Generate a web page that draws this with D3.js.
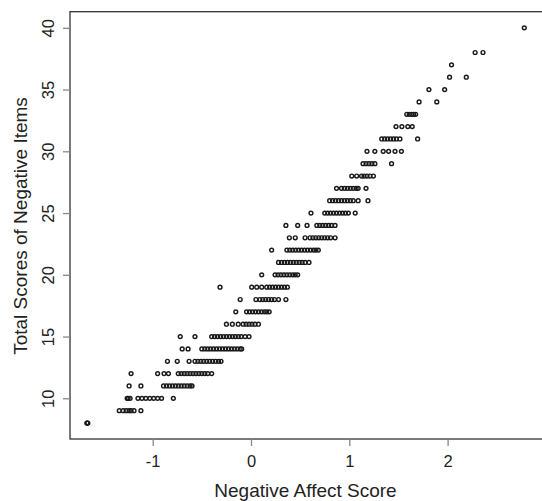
<!DOCTYPE html>
<html><head><meta charset="utf-8">
<script src="https://cdn.jsdelivr.net/npm/d3@7"></script>
<style>body{margin:0;background:#fff}svg{display:block}text{font-family:"Liberation Sans",Arial,sans-serif;fill:#222}</style>
</head><body>
<svg id="c" width="542" height="501"></svg>
<script>
// Negative Affect Score (x) values, grouped by Total Score (y)
const rows = [
  [8,  [-1.67,-1.665,-1.66]],
  [9,  [-1.34,-1.30,-1.27,-1.24,-1.22,-1.19,-1.12]],
  [10, [-1.26,-1.25,-1.23,-1.15,-1.11,-1.07,-1.03,-0.99,-0.95,-0.91,-0.79]],
  [11, [-1.24,-1.12,-0.89,-0.86,-0.83,-0.80,-0.77,-0.74,-0.71,-0.68,-0.65,-0.62,-0.60]],
  [12, [-1.22,-0.95,-0.885,-0.84,-0.74,-0.71,-0.68,-0.65,-0.62,-0.59,-0.56,-0.53,-0.50,-0.47,-0.44,-0.40]],
  [13, [-0.85,-0.75,-0.63,-0.57,-0.54,-0.51,-0.48,-0.45,-0.42,-0.39,-0.36,-0.33,-0.305]],
  [14, [-0.70,-0.64,-0.50,-0.47,-0.44,-0.41,-0.38,-0.35,-0.32,-0.29,-0.26,-0.23,-0.20,-0.17,-0.14,-0.11,-0.095]],
  [15, [-0.72,-0.57,-0.40,-0.37,-0.34,-0.31,-0.28,-0.25,-0.22,-0.19,-0.16,-0.13,-0.10,-0.06,-0.02]],
  [16, [-0.25,-0.19,-0.13,-0.08,-0.05,-0.02,0.01,0.04,0.075]],
  [17, [-0.155,-0.045,-0.015,0.015,0.045,0.075,0.105,0.135,0.16,0.185]],
  [18, [-0.11,0.05,0.09,0.12,0.15,0.18,0.21,0.24,0.28,0.355]],
  [19, [-0.315,0.007,0.058,0.109,0.16,0.19,0.22,0.25,0.28,0.31,0.34,0.37]],
  [20, [0.109,0.245,0.275,0.305,0.335,0.365,0.395,0.425,0.45,0.475]],
  [21, [0.28,0.31,0.34,0.37,0.40,0.43,0.46,0.49,0.52,0.55,0.59]],
  [22, [0.21,0.365,0.395,0.425,0.455,0.485,0.515,0.545,0.575,0.605,0.635,0.66,0.685]],
  [23, [0.39,0.45,0.55,0.60,0.63,0.66,0.69,0.72,0.75,0.78,0.81,0.855]],
  [24, [0.355,0.475,0.57,0.67,0.70,0.73,0.76,0.79,0.82,0.855]],
  [25, [0.61,0.75,0.78,0.81,0.84,0.87,0.90,0.93,0.96,0.99,1.06]],
  [26, [0.80,0.83,0.86,0.89,0.92,0.95,0.98,1.01,1.04,1.09,1.19]],
  [27, [0.87,0.92,0.95,0.98,1.01,1.04,1.07,1.09,1.17]],
  [28, [1.025,1.075,1.125,1.15,1.18,1.21,1.245]],
  [29, [1.14,1.17,1.20,1.23,1.26,1.43]],
  [30, [1.18,1.26,1.345,1.40,1.465,1.53]],
  [31, [1.33,1.36,1.39,1.42,1.45,1.48,1.515,1.695]],
  [32, [1.475,1.535,1.595,1.64]],
  [33, [1.585,1.61,1.635,1.655,1.675]],
  [34, [1.71,1.89]],
  [35, [1.81,1.97]],
  [36, [2.02,2.19]],
  [37, [2.04]],
  [38, [2.28,2.36]],
  [40, [2.78]]
];
const xTicks = [-1,0,1,2];
const yTicks = [10,15,20,25,30,35,40];
const xTitle = "Negative Affect Score";
const yTitle = "Total Scores of Negative Items";

const points = [];
rows.forEach(([yv, xs]) => xs.forEach(xv => points.push({x:xv, y:yv})));

const svg = d3.select("#c");
const x = d3.scaleLinear().domain([-1,2]).range([152.7,447.6]);
const y = d3.scaleLinear().domain([10,40]).range([398.3,27.8]);
const pL = 70, pR = 545, pT = 11.7, pB = 439;
const FONT = "'Liberation Sans',Arial,sans-serif";

svg.append("rect").attr("x",pL).attr("y",pT).attr("width",pR-pL).attr("height",pB-pT)
  .attr("fill","none").attr("stroke","#333").attr("stroke-width",1.3);

const xa = svg.append("g").attr("transform",`translate(0,${pB})`)
  .call(d3.axisBottom(x).tickValues(xTicks).tickSize(7).tickPadding(5).tickFormat(d => String(d)));
xa.select(".domain").remove();
xa.selectAll("line").attr("stroke","#888").attr("stroke-width",1.3);
xa.selectAll("text").attr("font-size",16.5).attr("fill","#222").style("font-family",FONT).attr("dy","0.95em");

const ya = svg.append("g").attr("transform",`translate(${pL},0)`)
  .call(d3.axisLeft(y).tickValues(yTicks).tickSize(7).tickFormat(d => String(d)));
ya.select(".domain").remove();
ya.selectAll("line").attr("stroke","#888").attr("stroke-width",1.3);
ya.selectAll("text").remove();
ya.selectAll(".tick").append("text")
  .attr("transform","translate(-16,0) rotate(-90)")
  .attr("text-anchor","middle").attr("dy","0")
  .attr("font-size",16.5).attr("fill","#222").style("font-family",FONT)
  .text(d => String(d));

svg.append("g").selectAll("circle").data(points).join("circle")
  .attr("cx", d => x(d.x)).attr("cy", d => y(d.y)).attr("r",1.9)
  .attr("fill","none").attr("stroke","#1a1a1a").attr("stroke-width",1.45);

svg.append("text").attr("x",305.5).attr("y",496.5).attr("text-anchor","middle")
  .attr("font-size",19).style("font-family",FONT).text(xTitle);
svg.append("text").attr("transform","translate(26.5,226) rotate(-90)").attr("text-anchor","middle")
  .attr("font-size",19).style("font-family",FONT).text(yTitle);
</script>
</body></html>
